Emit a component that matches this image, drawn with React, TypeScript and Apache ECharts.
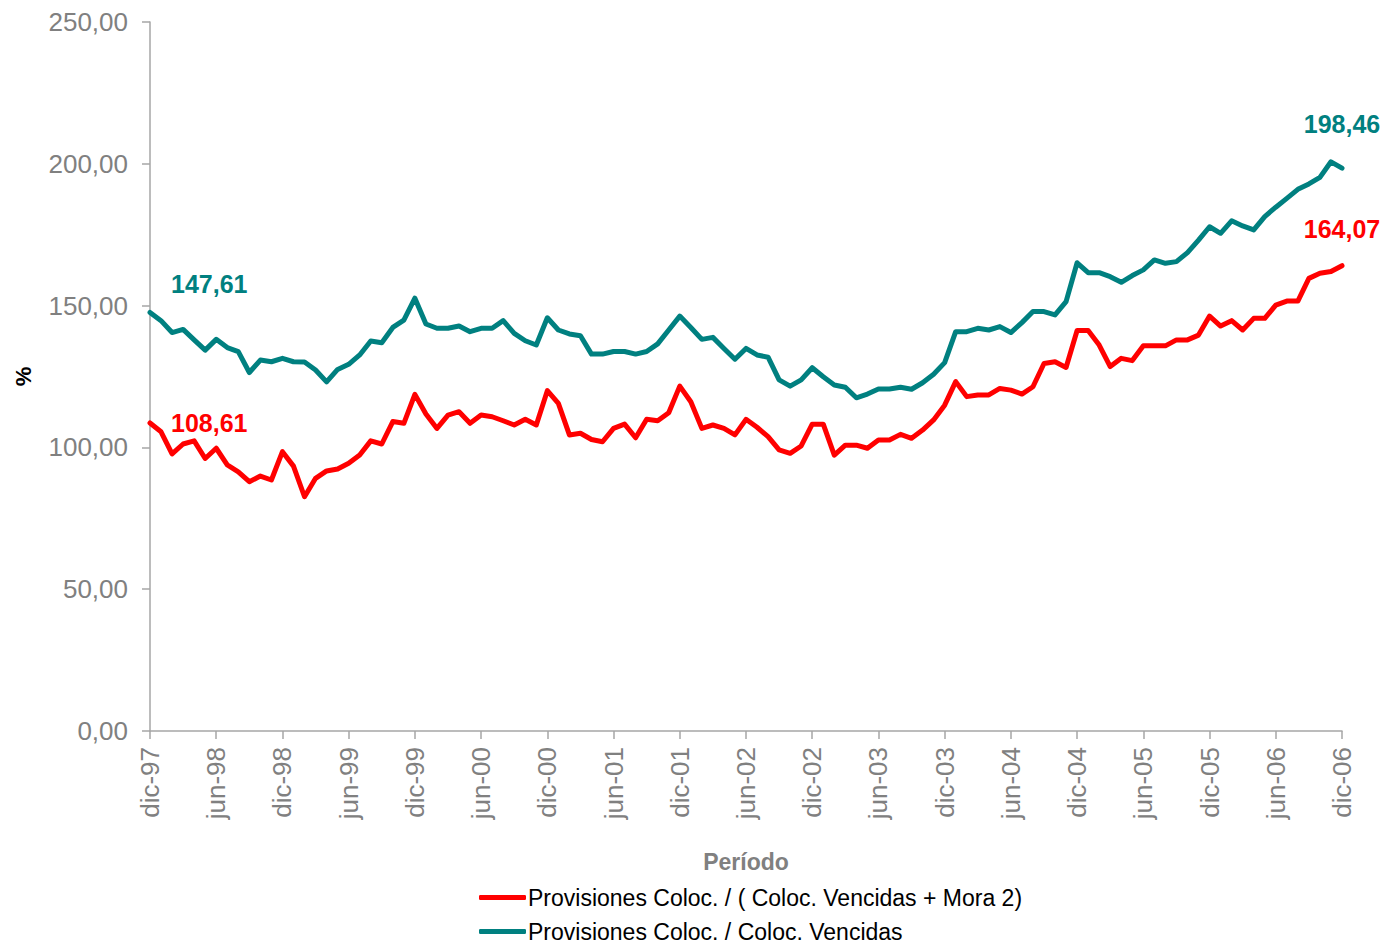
import React, { useEffect, useRef } from "react";
import * as echarts from "echarts";

const monthNames = ["ene", "feb", "mar", "abr", "may", "jun", "jul", "ago", "sep", "oct", "nov", "dic"];

// Dec 1997 .. Dec 2006 monthly
const categories: string[] = [];
for (let k = 0; k < 109; k++) {
  const m = (11 + k) % 12;
  const y = 1997 + Math.floor((11 + k) / 12);
  categories.push(`${monthNames[m]}-${String(y % 100).padStart(2, "0")}`);
}

const seriesRedName = "Provisiones Coloc. / ( Coloc. Vencidas + Mora 2)";
const seriesTealName = "Provisiones Coloc. / Coloc. Vencidas";

const redValues = [
  108.61, 105.5, 97.7, 101.2, 102.3, 96.1, 99.7, 93.8, 91.4, 87.9,
  89.9, 88.5, 98.5, 93.4, 82.6, 89.1, 91.7, 92.4, 94.4, 97.3,
  102.3, 101.2, 109.1, 108.5, 118.7, 111.8, 106.7, 111.4, 112.6, 108.5,
  111.4, 110.8, 109.4, 107.9, 109.9, 107.9, 120.0, 115.5, 104.4, 105.0,
  102.8, 102.0, 106.7, 108.2, 103.4, 109.9, 109.4, 112.2, 121.6, 116.1,
  106.7, 107.9, 106.7, 104.4, 109.9, 107.1, 103.8, 99.1, 97.9, 100.5,
  108.2, 108.2, 97.3, 100.8, 100.8, 99.7, 102.6, 102.6, 104.6, 103.2,
  106.1, 109.7, 114.9, 123.2, 117.9, 118.5, 118.5, 120.8, 120.2, 118.8,
  121.4, 129.6, 130.2, 128.2, 141.2, 141.2, 136.1, 128.5, 131.4, 130.6,
  135.8, 135.8, 135.8, 137.9, 137.9, 139.6, 146.3, 142.8, 144.7, 141.4,
  145.5, 145.5, 150.2, 151.6, 151.6, 159.6, 161.4, 162.0, 164.07,
];

const tealValues = [
  147.61, 144.7, 140.5, 141.6, 137.9, 134.3, 138.1, 135.2, 133.8, 126.4,
  130.8, 130.2, 131.4, 130.2, 130.1, 127.3, 123.1, 127.5, 129.3, 132.6,
  137.5, 136.9, 142.3, 144.9, 152.6, 143.5, 142.0, 142.0, 142.8, 140.8,
  142.0, 142.0, 144.7, 140.2, 137.6, 136.1, 145.7, 141.4, 140.0, 139.4,
  132.9, 132.9, 133.8, 133.8, 132.9, 133.8, 136.5, 141.4, 146.3, 142.3,
  138.1, 138.8, 134.9, 131.1, 134.9, 132.6, 131.8, 123.8, 121.6, 123.8,
  128.1, 124.9, 122.0, 121.2, 117.5, 118.8, 120.6, 120.6, 121.2, 120.5,
  122.8, 125.8, 129.9, 140.8, 140.8, 142.0, 141.4, 142.6, 140.5, 144.0,
  147.9, 147.9, 146.7, 151.4, 165.1, 161.6, 161.6, 160.2, 158.2, 160.6,
  162.6, 166.1, 164.9, 165.5, 168.7, 173.1, 177.8, 175.5, 179.9, 178.1,
  176.7, 181.4, 184.7, 187.8, 191.0, 192.9, 195.2, 200.7, 198.46,
];

const RED = "#FF0000";
const TEAL = "#008080";
const GRAY = "#808080";
const AXIS = "#a6a6a6";
const FONT = "'Liberation Sans', Arial, sans-serif";

const fmt = (v: number) => v.toFixed(2).replace(".", ",");

function withEndLabels(values: number[], color: string, startOffset: number[], endDist: number) {
  const last = values.length - 1;
  const common = { color, fontWeight: "bold", fontSize: 25, fontFamily: FONT };
  return values.map((v, i) => {
    if (i === 0) {
      return {
        value: v,
        label: { show: true, position: "right", offset: startOffset, distance: 21, formatter: () => fmt(v), ...common },
      };
    }
    if (i === last) {
      return {
        value: v,
        label: { show: true, position: "top", distance: endDist, formatter: () => fmt(v), ...common },
      };
    }
    return v;
  });
}

export default function App() {
  const ref = useRef<HTMLDivElement>(null);
  useEffect(() => {
    if (!ref.current) return;
    const chart = echarts.init(ref.current, undefined, { renderer: "svg" });
    const legendText = { color: "#000000", fontSize: 23, fontFamily: FONT, padding: [0, 0, 0, -3] };
    chart.setOption({
      animation: false,
      backgroundColor: "#ffffff",
      textStyle: { fontFamily: FONT },
      grid: { left: 150, right: 44, top: 22, bottom: 213, containLabel: false, outerBoundsMode: "none" },
      legend: [
        {
          left: 474,
          top: 881,
          itemWidth: 47,
          itemHeight: 5,
          icon: "roundRect",
          textStyle: legendText,
          data: [{ name: seriesRedName, itemStyle: { color: RED } }],
        },
        {
          left: 474,
          top: 915,
          itemWidth: 47,
          itemHeight: 5,
          icon: "roundRect",
          textStyle: legendText,
          data: [{ name: seriesTealName, itemStyle: { color: TEAL } }],
        },
      ],
      xAxis: {
        type: "category",
        data: categories,
        boundaryGap: false,
        name: "Período",
        nameLocation: "middle",
        nameGap: 119,
        nameMoveOverlap: false,
        nameTextStyle: { color: GRAY, fontSize: 23, fontWeight: "bold", fontFamily: FONT },
        axisLine: { show: true, lineStyle: { color: AXIS, width: 1.5 } },
        axisTick: { show: true, interval: 5, length: 8, lineStyle: { color: AXIS, width: 1.5 } },
        axisLabel: {
          interval: 5,
          rotate: 90,
          margin: 16,
          color: GRAY,
          fontSize: 26,
          fontFamily: FONT,
        },
        splitLine: { show: false },
      },
      yAxis: {
        type: "value",
        min: 0,
        max: 250,
        interval: 50,
        name: "%",
        nameLocation: "middle",
        nameRotate: 90,
        nameGap: 116,
        nameMoveOverlap: false,
        nameTextStyle: { color: "#000000", fontSize: 22, fontWeight: "bold", fontFamily: FONT },
        axisLine: { show: true, lineStyle: { color: AXIS, width: 1.5 } },
        axisTick: { show: true, length: 8, lineStyle: { color: AXIS, width: 1.5 } },
        axisLabel: {
          margin: 22,
          color: GRAY,
          fontSize: 26,
          fontFamily: FONT,
          formatter: (v: number) => fmt(v),
        },
        splitLine: { show: false },
      },
      series: [
        {
          name: seriesRedName,
          type: "line",
          data: withEndLabels(redValues, RED, [0, 0], 24),
          showSymbol: true,
          symbol: "circle",
          symbolSize: 0,
          label: { show: false },
          lineStyle: { color: RED, width: 5, cap: "round", join: "round" },
          itemStyle: { color: RED },
          z: 3,
        },
        {
          name: seriesTealName,
          type: "line",
          data: withEndLabels(tealValues, TEAL, [0, -28], 32),
          showSymbol: true,
          symbol: "circle",
          symbolSize: 0,
          label: { show: false },
          lineStyle: { color: TEAL, width: 5, cap: "round", join: "round" },
          itemStyle: { color: TEAL },
          z: 2,
        },
      ],
    });
    return () => chart.dispose();
  }, []);
  return (
    <div
      ref={ref}
      style={{ position: "fixed", left: 0, top: 0, width: 1386, height: 944, background: "#fff" }}
    />
  );
}
